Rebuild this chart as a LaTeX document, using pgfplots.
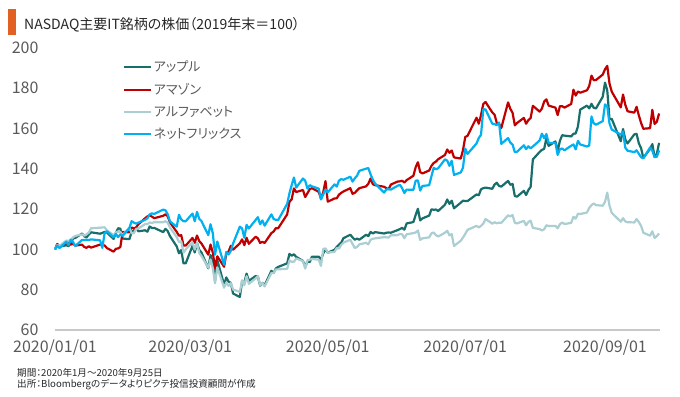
\documentclass[border=0pt]{standalone}
\usepackage{fontspec}
\setmainfont{Noto Sans CJK JP}[RawFeature=+palt]
\usepackage{pgfplots}
\pgfplotsset{compat=1.18}
\definecolor{applec}{RGB}{23,110,106}
\definecolor{amazonc}{RGB}{192,0,0}
\definecolor{googlec}{RGB}{171,206,210}
\definecolor{netflixc}{RGB}{0,176,240}
\definecolor{titlebar}{RGB}{226,96,36}
\definecolor{axisgray}{RGB}{200,200,200}
\definecolor{ticktext}{RGB}{89,89,89}
\definecolor{darktext}{RGB}{38,38,38}
\begin{document}
\begin{tikzpicture}
\path[use as bounding box] (0,0) rectangle (680bp,397bp);
\fill[titlebar] (7.5bp,362bp) rectangle (15.5bp,387.5bp);
\node[anchor=west, inner sep=0pt, text=darktext, font=\fontsize{14bp}{16bp}\selectfont] at (24bp,372bp) {NASDAQ主要IT銘柄の株価（2019年末＝100）};
\node[anchor=west, inner sep=0pt, text=darktext, font=\fontsize{9.6bp}{11bp}\selectfont] at (17bp,24bp) {期間：2020年1月～2020年9月25日};
\node[anchor=west, inner sep=0pt, text=darktext, font=\fontsize{9.6bp}{11bp}\selectfont] at (17bp,12bp) {出所：Bloombergのデータよりピクテ投信投資顧問が作成};
\begin{axis}[
  at={(55bp,67bp)}, anchor=south west,
  scale only axis, width=605bp, height=282bp,
  xmin=0, xmax=268.4, ymin=60, ymax=200,
  ytick={60,80,100,120,140,160,180,200},
  xtick={0,60,121,182,244},
  xticklabels={2020/01/01,2020/03/01,2020/05/01,2020/07/01,2020/09/01},
  axis x line*=bottom, axis y line*=left,
  y axis line style={draw=none},
  x axis line style={draw=axisgray, line width=1.3bp, -},
  major tick length=0pt,
  tick label style={font=\fontsize{16bp}{18bp}\selectfont, text=ticktext},
  /pgf/number format/assume math mode=true,
  yticklabel style={xshift=-13bp},
  xticklabel style={yshift=-6bp},
  clip=false,
  legend cell align=left,
  legend style={at={(rel axis cs:0.112,0.961)}, anchor=north west, draw=none, fill=none,
    inner sep=0pt, row sep=6bp, font=\fontsize{13bp}{15bp}\selectfont,
    nodes={inner sep=2bp, text=ticktext}},
  legend image code/.code={\draw[#1, line width=2bp] (0bp,0bp) -- (27bp,0bp);},
  every axis plot/.append style={line width=2.2bp, line join=round},
]
\addplot[applec] coordinates {(0,100)(1,102.3)(2,101.3)(5,102.1)(6,101.6)(7,103.2)(8,105.4)(9,105.7)(12,107.9)(13,106.5)(14,106.0)(15,107.4)(16,108.5)(20,107.8)(21,108.2)(22,108.7)(23,108.4)(26,105.2)(27,108.2)(28,110.5)(29,110.3)(30,105.4)(33,105.1)(34,108.6)(35,109.5)(36,110.7)(37,109.0)(40,109.5)(41,108.8)(42,111.4)(43,110.6)(44,110.7)(48,108.6)(49,110.2)(50,109.1)(51,106.6)(54,101.5)(55,98.1)(56,99.7)(57,93.1)(58,93.1)(61,101.8)(62,98.5)(63,103.1)(64,99.8)(65,98.4)(68,90.6)(69,97.2)(70,93.8)(71,84.5)(72,94.7)(75,82.5)(76,86.1)(77,84.0)(78,83.4)(79,78.1)(82,76.4)(83,84.1)(84,83.6)(85,88.0)(86,84.4)(89,86.8)(90,86.6)(91,82.0)(92,83.4)(93,82.2)(96,89.4)(97,88.3)(98,90.6)(99,91.3)(103,93.1)(104,97.8)(105,96.9)(106,97.6)(107,96.3)(110,94.3)(111,91.4)(112,94.0)(113,93.7)(114,96.4)(117,96.4)(118,94.9)(119,98.0)(120,100.1)(121,98.4)(124,99.8)(125,101.3)(126,102.4)(127,103.4)(128,105.6)(131,107.3)(132,106.0)(133,104.8)(134,105.4)(135,104.8)(138,107.3)(139,106.6)(140,108.7)(141,107.9)(142,108.6)(146,107.9)(147,108.3)(148,108.4)(149,108.3)(152,109.6)(153,110.1)(154,110.7)(155,109.8)(156,112.9)(159,113.6)(160,117.1)(161,120.2)(162,114.4)(163,115.4)(166,116.8)(167,119.9)(168,119.7)(169,119.8)(170,119.1)(173,122.2)(174,124.8)(175,122.6)(176,124.2)(177,120.4)(180,123.2)(181,124.2)(182,124.0)(183,124.0)(187,127.3)(188,126.9)(189,129.9)(190,130.4)(191,130.7)(194,130.1)(195,132.2)(196,133.1)(197,131.5)(198,131.2)(201,134.0)(202,132.1)(203,132.5)(204,126.5)(205,126.2)(208,129.1)(209,127.0)(210,129.5)(211,131.0)(212,144.7)(215,148.4)(216,149.4)(217,149.9)(218,155.2)(219,151.4)(222,153.6)(223,149.0)(224,153.9)(225,156.7)(226,156.5)(229,156.1)(230,157.4)(231,157.6)(232,161.1)(233,169.4)(236,171.4)(237,170.0)(238,172.3)(239,170.3)(240,170.0)(243,175.8)(244,182.8)(245,179.0)(246,164.7)(247,164.8)(251,153.7)(252,159.8)(253,154.6)(254,152.6)(257,157.1)(258,157.4)(259,152.7)(260,150.3)(261,145.5)(264,149.9)(265,152.3)(266,145.9)(267,147.4)(268,152.9)};
\addlegendentry{アップル}
\addplot[amazonc] coordinates {(0,100)(1,102.7)(2,101.5)(5,103.0)(6,103.2)(7,102.4)(8,102.9)(9,101.9)(12,102.4)(13,101.2)(14,100.8)(15,101.6)(16,100.9)(20,102.4)(21,102.1)(22,102.0)(23,100.7)(26,98.9)(27,100.3)(28,100.5)(29,101.2)(30,108.7)(33,108.5)(34,110.9)(35,110.4)(36,111.0)(37,112.5)(40,115.5)(41,116.4)(42,116.9)(43,116.3)(44,115.5)(48,116.7)(49,117.4)(50,116.5)(51,113.4)(54,108.7)(55,106.8)(56,107.1)(57,102.0)(58,101.9)(61,105.7)(62,103.3)(63,106.9)(64,104.1)(65,102.9)(68,97.4)(69,102.4)(70,98.5)(71,90.7)(72,96.6)(75,91.4)(76,97.8)(77,99.0)(78,101.8)(79,99.9)(82,103.0)(83,105.0)(84,102.1)(85,105.8)(86,102.8)(89,106.3)(90,105.5)(91,103.2)(92,103.8)(93,103.2)(96,108.1)(97,108.9)(98,110.6)(99,110.5)(103,117.4)(104,123.6)(105,124.9)(106,130.3)(107,128.5)(110,129.5)(111,126.0)(112,127.9)(113,129.9)(114,130.4)(117,128.6)(118,125.2)(119,128.4)(120,133.9)(121,123.7)(124,125.3)(125,125.4)(126,127.2)(127,128.1)(128,128.8)(131,130.4)(132,127.6)(133,128.1)(134,129.3)(135,130.4)(138,131.3)(139,132.6)(140,135.2)(141,132.4)(142,131.9)(146,131.1)(147,130.4)(148,129.9)(149,132.2)(152,133.7)(153,133.8)(154,134.1)(155,133.2)(156,134.4)(159,136.6)(160,140.8)(161,143.3)(162,138.4)(163,137.7)(166,139.2)(167,141.5)(168,142.9)(169,143.6)(170,144.8)(173,146.9)(174,149.6)(175,148.0)(176,149.1)(177,145.7)(180,145.1)(181,149.3)(182,155.8)(183,156.4)(187,165.4)(188,162.4)(189,166.7)(190,172.2)(191,173.2)(194,168.0)(195,166.9)(196,162.8)(197,162.3)(198,160.3)(201,173.0)(202,169.8)(203,167.8)(204,161.6)(205,162.8)(208,165.3)(209,162.4)(210,164.2)(211,165.2)(212,171.3)(215,168.4)(216,169.9)(217,173.4)(218,174.5)(219,171.4)(222,170.4)(223,166.7)(224,171.1)(225,171.1)(226,170.4)(229,172.2)(230,179.3)(231,176.4)(232,178.4)(233,177.8)(236,179.0)(237,181.1)(238,186.3)(239,184.0)(240,184.1)(243,186.8)(244,189.4)(245,191.1)(246,182.3)(247,178.3)(251,170.5)(252,176.9)(253,171.8)(254,168.6)(257,167.9)(258,170.8)(259,166.6)(260,162.8)(261,159.9)(264,160.2)(265,169.3)(266,162.3)(267,163.4)(268,167.5)};
\addlegendentry{アマゾン}
\addplot[googlec] coordinates {(0,100)(1,102.2)(2,101.7)(5,104.4)(6,104.2)(7,104.9)(8,106.0)(9,106.7)(12,107.5)(13,106.8)(14,107.5)(15,108.4)(16,110.5)(20,110.8)(21,110.9)(22,111.0)(23,109.5)(26,107.1)(27,108.4)(28,108.9)(29,108.7)(30,107.1)(33,110.9)(34,108.0)(35,108.1)(36,110.2)(37,110.4)(40,112.6)(41,112.6)(42,113.4)(43,113.1)(44,113.5)(48,113.5)(49,114.0)(50,113.3)(51,110.9)(54,106.1)(55,103.7)(56,104.0)(57,98.4)(58,100.0)(61,103.5)(62,99.9)(63,103.2)(64,98.2)(65,96.7)(68,90.9)(69,95.0)(70,90.7)(71,83.2)(72,91.1)(75,81.0)(76,83.6)(77,81.9)(78,83.3)(79,80.1)(82,78.9)(83,84.7)(84,82.3)(85,86.7)(86,82.9)(89,85.6)(90,86.8)(91,82.3)(92,83.4)(93,81.6)(96,88.3)(97,88.3)(98,90.1)(99,90.1)(103,90.4)(104,94.5)(105,93.9)(106,93.9)(107,95.5)(110,94.2)(111,90.5)(112,94.6)(113,94.9)(114,95.3)(117,94.9)(118,91.8)(119,100.2)(120,100.5)(121,98.4)(124,98.8)(125,100.7)(126,100.4)(127,102.3)(128,103.4)(131,104.8)(132,102.7)(133,100.7)(134,101.2)(135,102.5)(138,103.3)(139,102.5)(140,104.8)(141,105.3)(142,105.5)(146,106.1)(147,106.0)(148,105.9)(149,107.0)(152,107.1)(153,107.7)(154,107.5)(155,105.6)(156,107.5)(159,108.1)(160,108.4)(161,109.4)(162,104.7)(163,105.5)(166,106.0)(167,108.0)(168,108.4)(169,107.1)(170,106.4)(173,108.3)(174,109.3)(175,107.0)(176,107.6)(177,101.7)(180,104.3)(181,105.9)(182,107.7)(183,109.7)(187,111.7)(188,110.9)(189,111.7)(190,112.8)(191,115.1)(194,112.8)(195,113.5)(196,113.0)(197,113.3)(198,113.2)(201,116.9)(202,116.4)(203,117.1)(204,113.2)(205,112.9)(208,114.2)(209,112.0)(210,113.6)(211,114.3)(212,110.7)(215,110.1)(216,109.4)(217,110.0)(218,112.0)(219,111.6)(222,111.7)(223,110.5)(224,112.5)(225,113.4)(226,112.6)(229,113.2)(230,116.2)(231,115.3)(232,117.7)(233,117.6)(236,118.3)(237,120.6)(238,122.0)(239,122.8)(240,122.0)(243,121.7)(244,123.6)(245,128.2)(246,121.7)(247,118.1)(251,113.8)(252,115.5)(253,113.9)(254,113.5)(257,113.4)(258,115.1)(259,113.6)(260,111.7)(261,108.3)(264,106.8)(265,109.0)(266,105.7)(267,106.6)(268,107.9)};
\addlegendentry{アルファベット}
\addplot[netflixc] coordinates {(0,100)(1,101.9)(2,100.7)(5,103.8)(6,102.2)(7,104.8)(8,103.7)(9,101.7)(12,104.7)(13,104.7)(14,104.8)(15,104.7)(16,105.0)(20,104.5)(21,100.8)(22,108.0)(23,109.1)(26,106.0)(27,107.7)(28,106.1)(29,107.5)(30,106.7)(33,110.6)(34,114.0)(35,113.3)(36,112.8)(37,113.3)(40,114.7)(41,115.5)(42,117.4)(43,117.9)(44,117.6)(48,119.8)(49,119.4)(50,117.5)(51,113.9)(54,111.3)(55,117.2)(56,114.9)(57,114.0)(58,114.0)(61,117.8)(62,114.0)(63,118.6)(64,115.2)(65,114.0)(68,107.1)(69,112.5)(70,108.1)(71,97.4)(72,103.9)(75,92.4)(76,98.8)(77,97.5)(78,99.3)(79,102.9)(82,111.3)(83,110.4)(84,105.8)(85,112.2)(86,110.4)(89,114.6)(90,116.0)(91,112.5)(92,114.4)(93,111.8)(96,117.4)(97,115.1)(98,114.7)(99,114.6)(103,122.6)(104,127.8)(105,131.9)(106,135.7)(107,130.7)(110,135.2)(111,134.1)(112,130.2)(113,131.9)(114,131.3)(117,130.2)(118,124.8)(119,127.3)(120,129.8)(121,128.3)(124,132.3)(125,131.2)(126,134.2)(127,134.9)(128,134.6)(131,136.1)(132,133.7)(133,135.3)(134,136.6)(135,139.0)(138,140.1)(139,140.4)(140,137.3)(141,134.6)(142,132.7)(146,128.2)(147,129.8)(148,129.9)(149,129.7)(152,131.6)(153,132.1)(154,130.4)(155,128.0)(156,129.7)(159,129.6)(160,134.1)(161,134.3)(162,129.2)(163,131.5)(166,131.9)(167,136.3)(168,140.5)(169,139.8)(170,140.3)(173,144.7)(174,144.1)(175,141.5)(176,144.0)(177,137.0)(180,138.2)(181,140.6)(182,150.1)(183,147.4)(187,152.6)(188,155.3)(189,156.9)(190,169.6)(191,169.5)(194,162.4)(195,162.2)(196,161.7)(197,163.0)(198,152.4)(201,155.3)(202,153.0)(203,152.0)(204,148.3)(205,148.5)(208,151.7)(209,149.8)(210,151.2)(211,150.2)(212,151.1)(215,154.1)(216,157.5)(217,155.2)(218,157.3)(219,152.9)(222,152.9)(223,146.9)(224,149.8)(225,150.1)(226,149.2)(229,151.5)(230,152.1)(231,149.7)(232,153.9)(233,152.1)(236,151.1)(237,151.6)(238,166.0)(239,162.6)(240,161.9)(243,163.7)(244,172.0)(245,170.9)(246,162.5)(247,159.5)(251,157.0)(252,158.5)(253,150.5)(254,149.0)(257,148.3)(258,149.2)(259,147.5)(260,145.8)(261,145.2)(264,150.6)(265,149.0)(266,145.8)(267,146.0)(268,149.2)};
\addlegendentry{ネットフリックス}
\end{axis}
\end{tikzpicture}
\end{document}
